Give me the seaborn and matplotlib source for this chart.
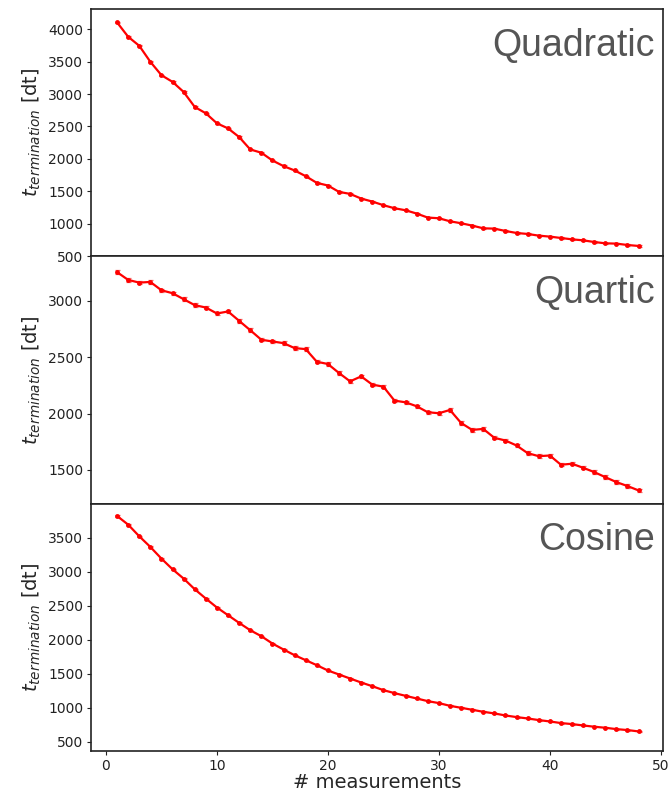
import matplotlib
matplotlib.use("Agg")
import matplotlib.pyplot as plt
import seaborn as sns
import pandas as pd

measurements = list(range(1, 49))

quadratic = [4103, 3882, 3743, 3496, 3290, 3187, 3032, 2801, 2703, 2549,
             2471, 2338, 2147, 2096, 1977, 1890, 1823, 1735, 1632, 1591,
             1493, 1462, 1390, 1344, 1288, 1241, 1210, 1159, 1097, 1087,
             1040, 1010, 974, 932, 927, 891, 860, 845, 819, 804,
             783, 762, 747, 721, 701, 696, 675, 660]

quartic = [3255, 3186, 3162, 3168, 3094, 3068, 3015, 2962, 2941, 2888,
           2906, 2823, 2740, 2655, 2640, 2625, 2581, 2572, 2460, 2440,
           2360, 2286, 2330, 2257, 2239, 2115, 2100, 2065, 2012, 2003,
           2032, 1917, 1855, 1864, 1785, 1761, 1717, 1649, 1622, 1628,
           1546, 1555, 1519, 1481, 1436, 1392, 1357, 1318]

cosine = [3824, 3696, 3525, 3368, 3196, 3039, 2902, 2745, 2608, 2476,
          2363, 2250, 2142, 2054, 1946, 1858, 1774, 1701, 1627, 1549,
          1490, 1431, 1372, 1318, 1260, 1216, 1176, 1137, 1098, 1069,
          1029, 1000, 971, 941, 917, 887, 863, 843, 819, 799,
          775, 760, 740, 721, 706, 686, 672, 652]

panel_names = ["Quadratic", "Quartic", "Cosine"]
panel_values = [quadratic, quartic, cosine]
panel_err = [10, 15, 8]
panel_ylims = [(500, 4310), (1200, 3395), (362, 4004)]
panel_yticks = [list(range(500, 4001, 500)), list(range(1500, 3001, 500)),
                list(range(500, 3501, 500))]
xticks = [0, 10, 20, 30, 40, 50]

sns.set_style("white")
plt.rcParams["font.family"] = ["DejaVu Sans"]

fig = plt.figure(figsize=(6.72, 7.94), dpi=100)
gs = fig.add_gridspec(3, 1, left=0.1354, right=0.9866, top=0.9887,
                      bottom=0.054, hspace=0)
axes = [fig.add_subplot(gs[i]) for i in range(3)]

for i, ax in enumerate(axes):
    df = pd.DataFrame({"m": measurements, "t": panel_values[i]})
    ax.errorbar(df["m"], df["t"], yerr=panel_err[i], fmt="none",
                ecolor="#ee0000", elinewidth=0.9, capsize=1.8, capthick=0.9,
                alpha=0.6, zorder=2)
    sns.lineplot(data=df, x="m", y="t", ax=ax, color="#ff0000",
                 marker="o", markersize=3.5, markeredgewidth=0,
                 linewidth=1.6, zorder=3)
    ax.set_xlim(-1.35, 50.2)
    ax.set_ylim(*panel_ylims[i])
    ax.set_yticks(panel_yticks[i])
    ax.set_xticks(xticks)
    ax.tick_params(axis="both", direction="out", length=3, width=0.8,
                   labelsize=10, colors="#222222", left=True, bottom=True,
                   pad=2.5)
    ax.set_ylabel(r"$t_{termination}$ [dt]", fontsize=14, labelpad=4)
    ax.set_xlabel("")
    for sp in ax.spines.values():
        sp.set_color("#222222")
        sp.set_linewidth(1.2)
    ax.text(0.985, 0.925, panel_names[i], transform=ax.transAxes,
            ha="right", va="top", fontsize=27, color="#555555",
            family="Liberation Sans")
    if i < 2:
        ax.tick_params(axis="x", labelbottom=False)

axes[2].set_xlabel("# measurements", fontsize=14, labelpad=0)
fig.align_ylabels(axes)

fig.savefig("out.png", dpi=100, facecolor="white")
